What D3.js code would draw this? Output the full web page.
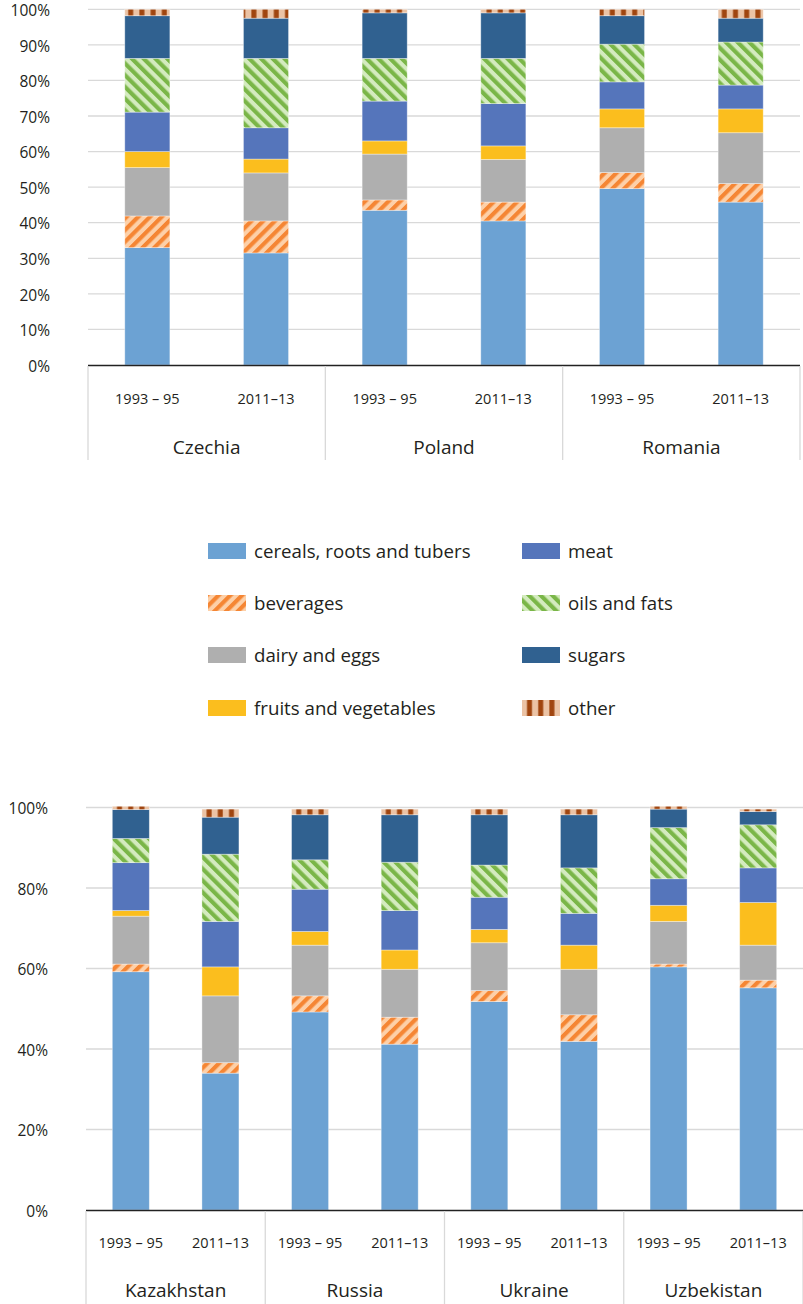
<!DOCTYPE html>
<html><head><meta charset="utf-8">
<script src="https://cdn.jsdelivr.net/npm/d3@7"></script>
<style>
html,body{margin:0;padding:0;background:#fff;}
svg{display:block;}
text{font-family:"Open Sans","Noto Sans",sans-serif;fill:#231f20;}
</style></head>
<body>
<svg id="chart" width="803" height="1304"></svg>
<script>
// ---------- data ----------
const periods = ["1993 – 95", "2011–13"];
const topCountries = ["Czechia", "Poland", "Romania"];
const bottomCountries = ["Kazakhstan", "Russia", "Ukraine", "Uzbekistan"];
const seriesNames = ["cereals, roots and tubers", "beverages", "dairy and eggs", "fruits and vegetables",
                     "meat", "oils and fats", "sugars", "other"];
const topTicks = [0, 10, 20, 30, 40, 50, 60, 70, 80, 90, 100];
const bottomTicks = [0, 20, 40, 60, 80, 100];

// top chart: CZ 93-95, CZ 11-13, PL 93-95, PL 11-13, RO 93-95, RO 11-13 (% of dietary energy)
const topCereals   = [33.0, 31.5, 43.5, 40.5, 49.6, 45.8];
const topBeverages = [8.9, 9.0, 2.9, 5.3, 4.5, 5.2];
const topDairy     = [13.6, 13.5, 12.9, 12.0, 12.6, 14.3];
const topFruits    = [4.5, 3.9, 3.7, 3.8, 5.3, 6.7];
const topMeat      = [11.1, 8.8, 11.2, 11.9, 7.6, 6.7];
const topOils      = [15.1, 19.5, 12.0, 12.7, 10.6, 12.1];
const topSugars    = [12.0, 11.3, 12.8, 12.8, 8.0, 6.7];
const topOther     = [1.8, 2.5, 1.0, 1.0, 1.8, 2.5];

// bottom chart: KZ, RU, UA, UZ — each 1993-95 then 2011-13
const botCereals   = [59.2, 34.0, 49.2, 41.2, 51.8, 41.9, 60.4, 55.2];
const botBeverages = [1.9, 2.6, 4.0, 6.7, 2.7, 6.6, 0.7, 1.9];
const botDairy     = [11.9, 16.6, 12.6, 11.9, 11.9, 11.3, 10.6, 8.7];
const botFruits    = [1.4, 7.2, 3.4, 4.8, 3.3, 6.0, 4.0, 10.6];
const botMeat      = [11.9, 11.3, 10.5, 9.8, 8.0, 7.9, 6.6, 8.6];
const botOils      = [6.0, 16.7, 7.3, 12.0, 8.0, 11.3, 12.7, 10.7];
const botSugars    = [7.2, 9.2, 11.2, 11.8, 12.5, 13.2, 4.6, 3.3];
const botOther     = [0.8, 2.0, 1.4, 1.4, 1.4, 1.4, 0.7, 0.6];

// ---------- styles ----------
const fills = {
  "cereals, roots and tubers": "#6ca2d3",
  "beverages": "url(#patBev)",
  "dairy and eggs": "#afafaf",
  "fruits and vegetables": "#fbbe1e",
  "meat": "#5575bb",
  "oils and fats": "url(#patOil)",
  "sugars": "#306190",
  "other": "url(#patOther)"
};

const svg = d3.select("#chart");
const defs = svg.append("defs");
function diagPattern(id, dark, light, angle) {
  const p = 8.3;
  const pat = defs.append("pattern").attr("id", id).attr("patternUnits", "userSpaceOnUse")
    .attr("width", p).attr("height", p).attr("patternTransform", `rotate(${angle})`);
  pat.append("rect").attr("width", p).attr("height", p).attr("fill", light);
  pat.append("rect").attr("width", p / 2).attr("height", p).attr("fill", dark);
}
diagPattern("patBev", "#f58634", "#fdd0a8", 45);
diagPattern("patOil", "#7ab648", "#d4ebbf", -45);
{
  const pat = defs.append("pattern").attr("id", "patOther").attr("patternUnits", "userSpaceOnUse")
    .attr("width", 11.2).attr("height", 20);
  pat.append("rect").attr("width", 11.2).attr("height", 20).attr("fill", "#ebc3a5");
  pat.append("rect").attr("x", 5).attr("width", 5).attr("height", 20).attr("fill", "#a0450f");
}

function buildRows(countries, cols) {
  const rows = [];
  countries.forEach((c, ci) => periods.forEach((p, pi) => {
    const i = ci * 2 + pi;
    const r = { key: c + "|" + p, country: c, period: p };
    seriesNames.forEach((s, si) => r[s] = cols[si][i]);
    rows.push(r);
  }));
  return rows;
}

function drawChart(cfg) {
  const { rows, countries, x0, x1, yBase, yTop, ticks, padding, labelY1, labelY2, sepBottom } = cfg;
  const g = svg.append("g");
  const x = d3.scaleBand().domain(rows.map(r => r.key)).range([x0, x1])
    .paddingInner(padding).paddingOuter(padding / 2);
  const y = d3.scaleLinear().domain([0, 100]).range([yBase, yTop]);

  // gridlines
  g.selectAll("line.grid").data(ticks.filter(t => t > 0)).join("line")
    .attr("x1", x0).attr("x2", x1).attr("y1", d => y(d)).attr("y2", d => y(d))
    .attr("stroke", "#d9d9d9").attr("stroke-width", 1.3);

  // y tick labels
  const yAxis = d3.axisLeft(y).tickValues(ticks).tickFormat(d => d + "%").tickSize(0).tickPadding(0);
  const ya = g.append("g").attr("transform", `translate(${x0 - 38},0)`).call(yAxis);
  ya.select(".domain").remove();
  ya.selectAll("text").style("font-family", '"Open Sans","Noto Sans",sans-serif')
    .style("font-size", "15.5px").attr("fill", "#231f20").attr("dy", "0.4em");

  // stacked bars
  const stack = d3.stack().keys(seriesNames)(rows);
  g.selectAll("g.series").data(stack).join("g")
    .attr("fill", d => fills[d.key])
    .selectAll("rect").data(d => d).join("rect")
    .attr("x", d => x(d.data.key)).attr("width", x.bandwidth())
    .attr("y", d => y(d[1])).attr("height", d => y(d[0]) - y(d[1]))
    .attr("stroke", "rgba(255,255,255,0.45)").attr("stroke-width", 0.8);

  // axis baseline
  g.append("line").attr("x1", x0).attr("x2", x1).attr("y1", yBase + 0.5).attr("y2", yBase + 0.5)
    .attr("stroke", "#222").attr("stroke-width", 1.5);

  // group separators
  const groupW = (x1 - x0) / countries.length;
  const seps = d3.range(countries.length + 1).map(i => x0 + i * groupW);
  g.selectAll("line.sep").data(seps).join("line")
    .attr("x1", d => d).attr("x2", d => d).attr("y1", yBase + 1).attr("y2", sepBottom)
    .attr("stroke", "#d9d9d9").attr("stroke-width", 1.3);

  // period labels
  g.selectAll("text.period").data(rows).join("text")
    .attr("x", d => x(d.key) + x.bandwidth() / 2).attr("y", labelY1)
    .attr("text-anchor", "middle").attr("dy", "0.35em")
    .style("font-size", "14.5px").text(d => d.period);

  // country labels
  g.selectAll("text.country").data(countries).join("text")
    .attr("x", (d, i) => x0 + (i + 0.5) * groupW).attr("y", labelY2)
    .attr("text-anchor", "middle").attr("dy", "0.35em")
    .style("font-size", "19px").text(d => d);
}

drawChart({
  rows: buildRows(topCountries, [topCereals, topBeverages, topDairy, topFruits, topMeat, topOils, topSugars, topOther]),
  countries: topCountries, x0: 88, x1: 800, yBase: 365, yTop: 9.3, ticks: topTicks,
  padding: 0.62, labelY1: 399, labelY2: 447, sepBottom: 460
});

drawChart({
  rows: buildRows(bottomCountries, [botCereals, botBeverages, botDairy, botFruits, botMeat, botOils, botSugars, botOther]),
  countries: bottomCountries, x0: 86, x1: 803, yBase: 1210, yTop: 807.5, ticks: bottomTicks,
  padding: 0.587, labelY1: 1243, labelY2: 1290, sepBottom: 1304
});

// legend
const legendCols = [208, 522];
const legendRows = [551, 603, 655, 708];
const lg = svg.append("g");
const items = lg.selectAll("g.item").data(seriesNames).join("g")
  .attr("transform", (d, i) => `translate(${legendCols[Math.floor(i / 4)]},${legendRows[i % 4]})`);
items.append("rect").attr("x", 0).attr("y", -8).attr("width", 38).attr("height", 16)
  .attr("fill", d => fills[d]);
items.append("text").attr("x", 46).attr("y", 0).attr("dy", "0.35em")
  .style("font-size", "18.7px").text(d => d);
</script>
</body></html>
